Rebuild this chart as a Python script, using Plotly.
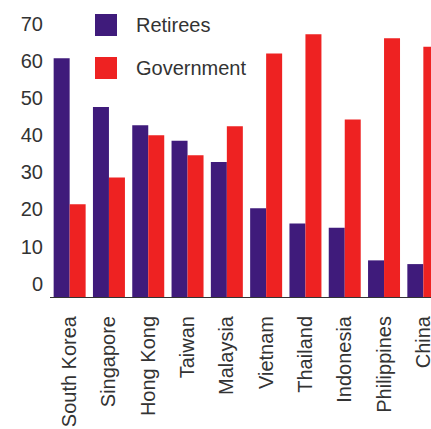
import plotly.graph_objects as go

countries = ["South Korea", "Singapore", "Hong Kong", "Taiwan", "Malaysia",
             "Vietnam", "Thailand", "Indonesia", "Philippines", "China"]
retirees = [60.7, 47.6, 42.7, 38.5, 32.8, 20.3, 16.2, 15.1, 6.3, 5.3]
government = [21.4, 28.6, 40.0, 34.6, 42.4, 62.0, 67.2, 44.2, 66.1, 63.8]
y_ticks = [0, 10, 20, 30, 40, 50, 60, 70]

AXIS_FLOOR = -3.56  # the chart's baseline sits a little below the "0" label
RET_COLOR = "#3F1B7B"
GOV_COLOR = "#EE2222"
FONT = dict(family="Liberation Sans, Arial, sans-serif", size=20, color="#333333")

fig = go.Figure()
fig.add_trace(go.Bar(name="Retirees", x=countries,
                     y=[v - AXIS_FLOOR for v in retirees], base=AXIS_FLOOR,
                     customdata=retirees, hovertemplate="%{x}: %{customdata}<extra>Retirees</extra>",
                     marker=dict(color=RET_COLOR, line=dict(width=0))))
fig.add_trace(go.Bar(name="Government", x=countries,
                     y=[v - AXIS_FLOOR for v in government], base=AXIS_FLOOR,
                     customdata=government, hovertemplate="%{x}: %{customdata}<extra>Government</extra>",
                     marker=dict(color=GOV_COLOR, line=dict(width=0))))

# legend drawn as large swatches like the original
L, R_, T, B = 50, 431, 0, 297
def px(x):
    return (x - L) / (R_ - L)
def py(y):
    return (B - y) / (B - T)

for (label, color, y0, y1, yc) in [("Retirees", RET_COLOR, 14, 36, 25),
                                     ("Government", GOV_COLOR, 57, 79, 68)]:
    fig.add_shape(type="rect", xref="paper", yref="paper",
                  x0=px(95), x1=px(117), y0=py(y1), y1=py(y0),
                  fillcolor=color, line=dict(width=0), layer="above")
    fig.add_annotation(text=label, xref="paper", yref="paper", x=px(134), y=py(yc),
                       xanchor="left", yanchor="middle", showarrow=False, font=FONT)

fig.update_layout(
    width=431, height=429,
    margin=dict(l=50, r=0, t=0, b=132, pad=0),
    barmode="group", bargap=0.186, bargroupgap=0,
    showlegend=False,
    plot_bgcolor="white", paper_bgcolor="white",
    font=FONT,
)
fig.update_xaxes(range=[-0.5, 9.195], tickangle=-90, showgrid=False,
                 showline=True, linecolor="#333333", linewidth=1,
                 ticks="", ticklabelstandoff=10, tickfont=FONT, automargin=False)
fig.update_yaxes(range=[AXIS_FLOOR, 76.39], tickvals=y_ticks, showgrid=False,
                 zeroline=False, showline=False, ticks="", ticklabelstandoff=6,
                 tickfont=FONT, automargin=False)

fig.write_html("out.html", config={"displayModeBar": False},
               post_script="document.body.style.margin='0';document.body.style.overflow='hidden';")
